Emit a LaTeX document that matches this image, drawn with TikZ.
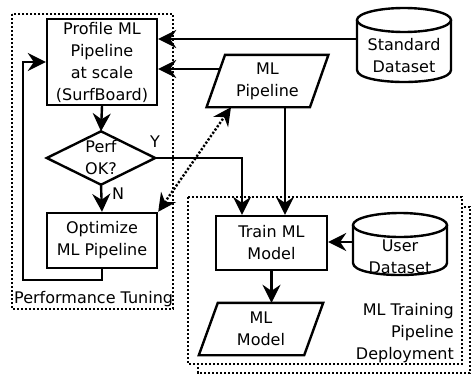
\documentclass[tikz,border=0pt]{standalone}
\usepackage{fontspec}
\setmainfont{DejaVu Sans}
\usetikzlibrary{arrows.meta,calc}
\begin{document}
\begin{tikzpicture}[x=1pt,y=-1pt,
  every node/.style={font=\fontsize{16}{22}\selectfont, align=center, inner sep=0pt},
  lw/.style={line width=2.4pt},
  box/.style={draw, line width=2.4pt},
  tip/.tip={Stealth[length=18pt,width=18pt,inset=6pt]},
  arr/.style={line width=2.4pt, -tip},
  dotarr/.style={line width=2.4pt, dash pattern=on 2.2pt off 1.8pt, tip-tip},
  grp/.style={line width=2.4pt, dash pattern=on 2.2pt off 1.8pt}]
\useasboundingbox (0,0) rectangle (471,383);
% group frames
\draw[grp] (12,14) rectangle (173,309);
\draw[grp] (198,207) rectangle (470,373);
\filldraw[grp, fill=white] (188,197) rectangle (462,364);
% nodes
\node[box, minimum width=110pt, minimum height=86pt] (prof) at (102,62) {Profile ML\\Pipeline\\at scale\\(SurfBoard)};
\node[minimum width=108pt, minimum height=53pt] (perf) at (101,158) {Perf\\OK?};
\draw[lw] (perf.north) -- (perf.east) -- (perf.south) -- (perf.west) -- cycle;
\node[box, minimum width=110pt, minimum height=55pt] (opt) at (102,240.5) {Optimize\\ML Pipeline};
\node[minimum width=94pt, minimum height=40pt] (std) at (404,56) {Standard\\Dataset};
\draw[lw] (357,20) -- (357,70) .. controls (357,86) and (451,86) .. (451,70) -- (451,20);
\draw[lw] (404,20) ellipse [x radius=47, y radius=12];
\node[minimum width=103pt, minimum height=52pt] (mlp) at (267.5,81) {ML\\Pipeline};
\draw[lw] ([xshift=9.25pt]mlp.north west) -- ([xshift=9.25pt]mlp.north east) -- ([xshift=-9.25pt]mlp.south east) -- ([xshift=-9.25pt]mlp.south west) -- cycle;
\node[box, minimum width=111pt, minimum height=54pt] (train) at (271.5,243) {Train ML\\Model};
\node[minimum width=94pt, minimum height=40pt] (user) at (400,256.5) {User\\Dataset};
\draw[lw] (353,225) -- (353,263) .. controls (353,279) and (447,279) .. (447,263) -- (447,225);
\draw[lw] (400,225) ellipse [x radius=47, y radius=12];
\node[minimum width=105pt, minimum height=52pt] (mlm) at (261,329) {ML\\Model};
\draw[lw] ([xshift=9.5pt]mlm.north west) -- ([xshift=9.5pt]mlm.north east) -- ([xshift=-9.5pt]mlm.south east) -- ([xshift=-9.5pt]mlm.south west) -- cycle;
% labels
\node[anchor=base west] (ptlab) at (14,303) {Performance Tuning};
\node[align=right, anchor=east] (deplab) at (454,333.5) {ML Training\\Pipeline\\Deployment};
\node (ylab) at (155,142) {Y};
\node (nlab) at (118,194) {N};
% connectors
\coordinate (sout) at ([yshift=17pt]std.west);
\draw[arr] (sout) -- (sout -| prof.east);
\coordinate (mout) at ([xshift=4.3pt,yshift=12pt]mlp.west);
\draw[arr] (mout) -- (mout -| prof.east);
\draw[arr] (prof.south) -- (perf.north);
\draw[arr] (perf.south) -- (opt.north);
\coordinate (tin1) at ([xshift=-29.5pt]train.north);
\coordinate (tin2) at ([xshift=13.5pt]train.north);
\draw[arr] (perf.east) -| (tin1);
\draw[arr] (tin2 |- mlp.south) -- (tin2);
\draw[arr] (opt.south) -- ++(0,11) -- ++(-79,0) |- (prof.west);
\coordinate (uout) at ([yshift=14.5pt]user.west);
\draw[arr] (uout) -- (uout -| train.east);
\draw[arr] (train.south) -- (train.south |- mlm.north);
\coordinate (mlpb) at ([xshift=-36.5pt]mlp.south);
\draw[dotarr] (opt.north east) -- (mlpb);
\end{tikzpicture}
\end{document}
